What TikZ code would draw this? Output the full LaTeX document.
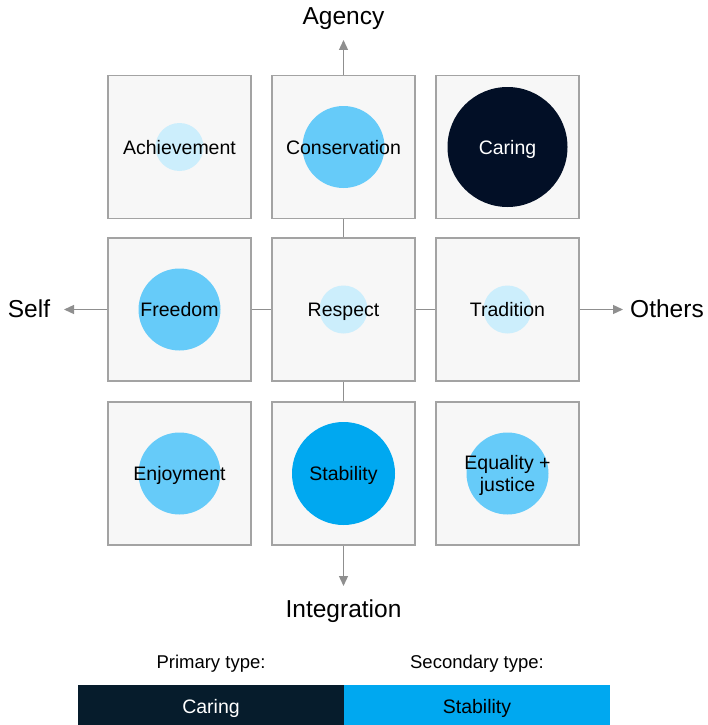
\documentclass[tikz,border=0pt]{standalone}
\usepackage{fontspec}
\setmainfont{Liberation Sans}
\usetikzlibrary{arrows.meta}
\definecolor{boxfill}{HTML}{F7F7F7}
\definecolor{boxline}{HTML}{A3A3A3}
\definecolor{axisgray}{HTML}{8F8F8F}
\definecolor{palecircle}{HTML}{CCEEFC}
\definecolor{midcircle}{HTML}{66CBF9}
\definecolor{strongcircle}{HTML}{00A8F0}
\definecolor{navy}{HTML}{020F26}
\definecolor{legendnavy}{HTML}{061C2C}
\begin{document}
\begin{tikzpicture}[x=1pt,y=-1pt,
  cell/.style={draw=boxline,fill=boxfill,minimum size=143pt,inner sep=0pt,line width=1.3pt},
  lbl/.style={font=\fontsize{19.5}{22}\selectfont,inner sep=0pt,text height=14pt,text depth=0pt},
  axislbl/.style={font=\fontsize{24.5}{28}\selectfont,anchor=base,inner sep=0pt},
  keylbl/.style={font=\fontsize{18.5}{20}\selectfont,anchor=base,inner sep=0pt},
  axis/.style={draw=axisgray,line width=1.3pt},
  tip/.style={-{Triangle[length=10pt,width=9pt]}},
  bar/.style={minimum width=266pt,minimum height=40pt,inner sep=0pt},
  bartxt/.style={font=\fontsize{19.5}{22}\selectfont,anchor=base,inner sep=0pt}]
\useasboundingbox (0,0) rectangle (708,725);
\pgfmathsetmacro{\colA}{179.5}
\pgfmathsetmacro{\colB}{343.5}
\pgfmathsetmacro{\colC}{507.5}
\pgfmathsetmacro{\rowA}{147}
\pgfmathsetmacro{\rowB}{309.5}
\pgfmathsetmacro{\rowC}{473.5}
% boxes
\node[cell] (achv) at (\colA,\rowA) {};
\node[cell] (cons) at (\colB,\rowA) {};
\node[cell] (care) at (\colC,\rowA) {};
\node[cell] (free) at (\colA,\rowB) {};
\node[cell] (resp) at (\colB,\rowB) {};
\node[cell] (trad) at (\colC,\rowB) {};
\node[cell] (enjo) at (\colA,\rowC) {};
\node[cell] (stab) at (\colB,\rowC) {};
\node[cell] (equa) at (\colC,\rowC) {};
% circles
\fill[palecircle] (achv.center) circle (24);
\fill[midcircle] (cons.center) circle (41);
\fill[navy] (care.center) circle (60);
\fill[midcircle] (free.center) circle (41);
\fill[palecircle] (resp.center) circle (24);
\fill[palecircle] (trad.center) circle (24);
\fill[midcircle] (enjo.center) circle (41);
\fill[strongcircle] (stab.center) circle (51.5);
\fill[midcircle] (equa.center) circle (41);
% texts
\node[lbl] (achvtxt) at (achv.center) {Achievement};
\node[lbl] (constxt) at (cons.center) {Conservation};
\node[lbl,text=white] (caretxt) at (care.center) {Caring};
\node[lbl] (freetxt) at (free.center) {Freedom};
\node[lbl] (resptxt) at (resp.center) {Respect};
\node[lbl] (tradtxt) at (trad.center) {Tradition};
\node[lbl] (enjotxt) at (enjo.center) {Enjoyment};
\node[lbl] (stabtxt) at (stab.center) {Stability};
\node[lbl,text height=,text depth=,align=center] (equatxt) at (\colC,\rowC+1.5) {Equality +\\justice};
% axes
\draw[axis] (cons.south) -- (resp.north);
\draw[axis] (resp.south) -- (stab.north);
\draw[axis] (free.east) -- (resp.west);
\draw[axis] (resp.east) -- (trad.west);
\coordinate (uptip) at (\colB,40);
\coordinate (downtip) at (\colB,586);
\coordinate (lefttip) at (64,\rowB);
\coordinate (righttip) at (623,\rowB);
\draw[axis,tip] (cons.north) -- (uptip);
\draw[axis,tip] (stab.south) -- (downtip);
\draw[axis,tip] (free.west) -- (lefttip);
\draw[axis,tip] (trad.east) -- (righttip);
\node[axislbl] (agency) at (\colB,25) {Agency};
\node[axislbl] (integ) at (\colB,617) {Integration};
\node[axislbl] (self) at (29,317) {Self};
\node[axislbl] (others) at (667,317) {Others};
% legend
\node[keylbl] (primlbl) at (211,668) {Primary type:};
\node[keylbl] (secolbl) at (477,668) {Secondary type:};
\node[bar,fill=legendnavy] (primbar) at (211,705) {};
\node[bar,fill=strongcircle] (secobar) at (477,705) {};
\node[bartxt,text=white] (primtxt) at (211,713) {Caring};
\node[bartxt] (secotxt) at (477,713) {Stability};
\end{tikzpicture}
\end{document}
